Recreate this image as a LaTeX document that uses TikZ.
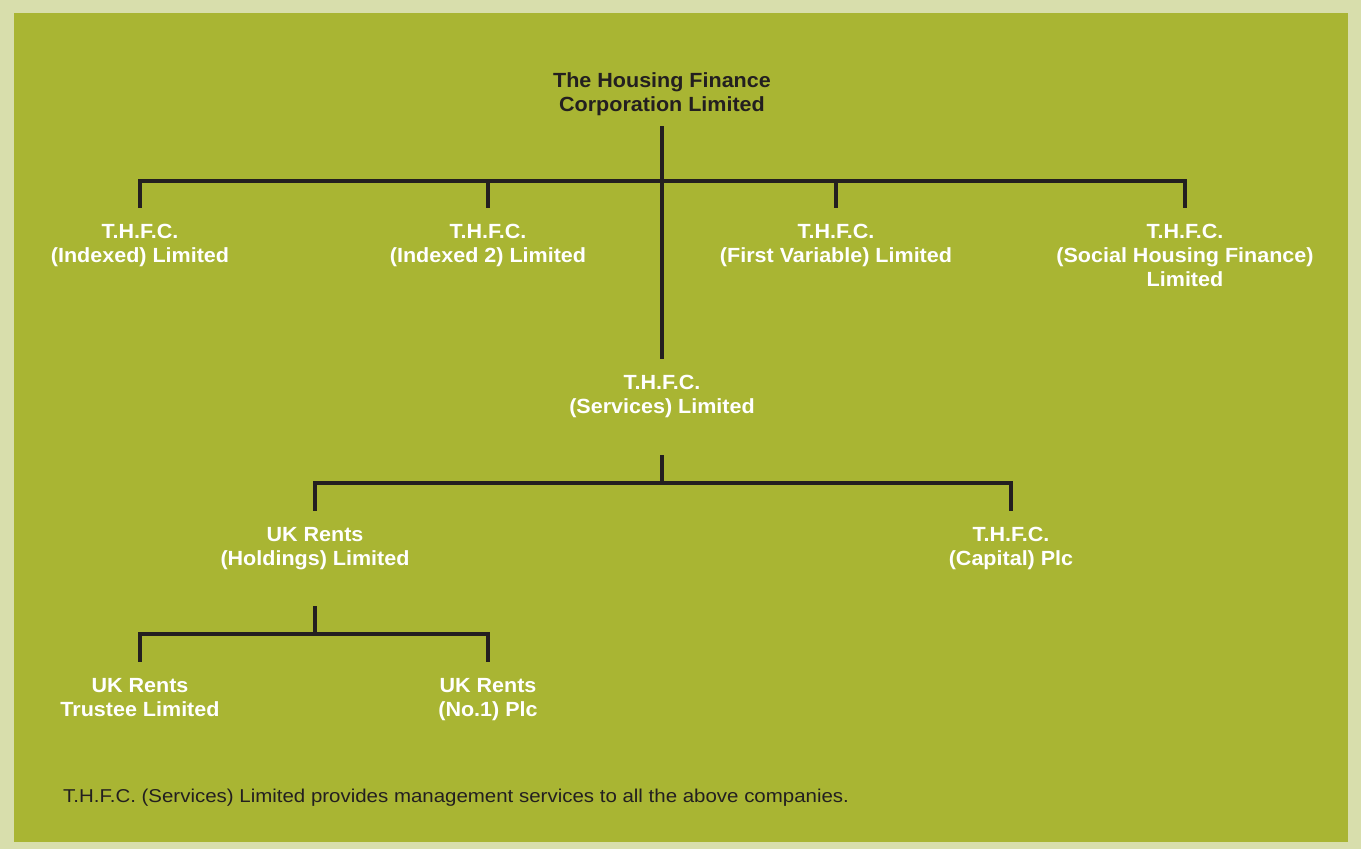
\documentclass[tikz,border=0pt]{standalone}
\usepackage{fontspec}
\setmainfont[FakeStretch=1.05]{Liberation Sans}
\newfontfamily\notefont[FakeStretch=1.1]{Liberation Sans}
\definecolor{outerbg}{HTML}{D8DEAC}
\definecolor{innerbg}{HTML}{A9B533}
\definecolor{ink}{HTML}{231F20}
\newcommand\st{\rule[-5pt]{0pt}{22pt}}
\begin{document}
\begin{tikzpicture}[x=1pt,y=-1pt,
  lbl/.style={align=center,inner sep=0pt,text=white,font=\fontsize{20.5}{24}\selectfont\bfseries},
  toplbl/.style={lbl,text=ink},
  conn/.style={draw=ink,line width=4pt,line cap=rect,line join=miter}]
\fill[outerbg] (0,0) rectangle (1361,849);
\fill[innerbg] (13.5,13) rectangle (1348,841.5);
\useasboundingbox (0,0) rectangle (1361,849);

\node[toplbl] (top) at (662,93) {\st The Housing Finance\\\st Corporation Limited};
\node[lbl] (a) at (140,244) {\st T.H.F.C.\\\st (Indexed) Limited};
\node[lbl] (b) at (488,244) {\st T.H.F.C.\\\st (Indexed 2) Limited};
\node[lbl] (c) at (836,244) {\st T.H.F.C.\\\st (First Variable) Limited};
\node[lbl] (d) at (1185,256) {\st T.H.F.C.\\\st (Social Housing Finance)\\\st Limited};
\node[lbl] (svc) at (662,395) {\st T.H.F.C.\\\st (Services) Limited};
\node[lbl] (hold) at (315,547) {\st UK Rents\\\st (Holdings) Limited};
\node[lbl] (cap) at (1011,547) {\st T.H.F.C.\\\st (Capital) Plc};
\node[lbl] (trust) at (140,698) {\st UK Rents\\\st Trustee Limited};
\node[lbl] (no1) at (488,698) {\st UK Rents\\\st (No.1) Plc};
\node[anchor=west,inner sep=0pt,text=ink,font=\notefont\fontsize{18.6}{22}\selectfont] (note) at (63,798) {T.H.F.C. (Services) Limited provides management services to all the above companies.};

\coordinate (j1) at (662,181);
\coordinate (j2) at (662,483);
\coordinate (j3) at (315,634);

% level 1
\draw[conn] ([yshift=-12pt]top.south) -- ([yshift=15pt]svc.north);
\draw[conn] ([yshift=15pt]a.north) |- (j1) -| ([yshift=15pt]d.north);
\draw[conn] ([yshift=15pt]b.north) -- (b.north |- j1);
\draw[conn] ([yshift=15pt]c.north) -- (c.north |- j1);
% level 2
\draw[conn] ([yshift=-39pt]svc.south) -- (j2);
\draw[conn] ([yshift=15pt]hold.north) |- (j2) -| ([yshift=15pt]cap.north);
% level 3
\draw[conn] ([yshift=-38pt]hold.south) -- (j3);
\draw[conn] ([yshift=15pt]trust.north) |- (j3) -| ([yshift=15pt]no1.north);
\end{tikzpicture}
\end{document}
